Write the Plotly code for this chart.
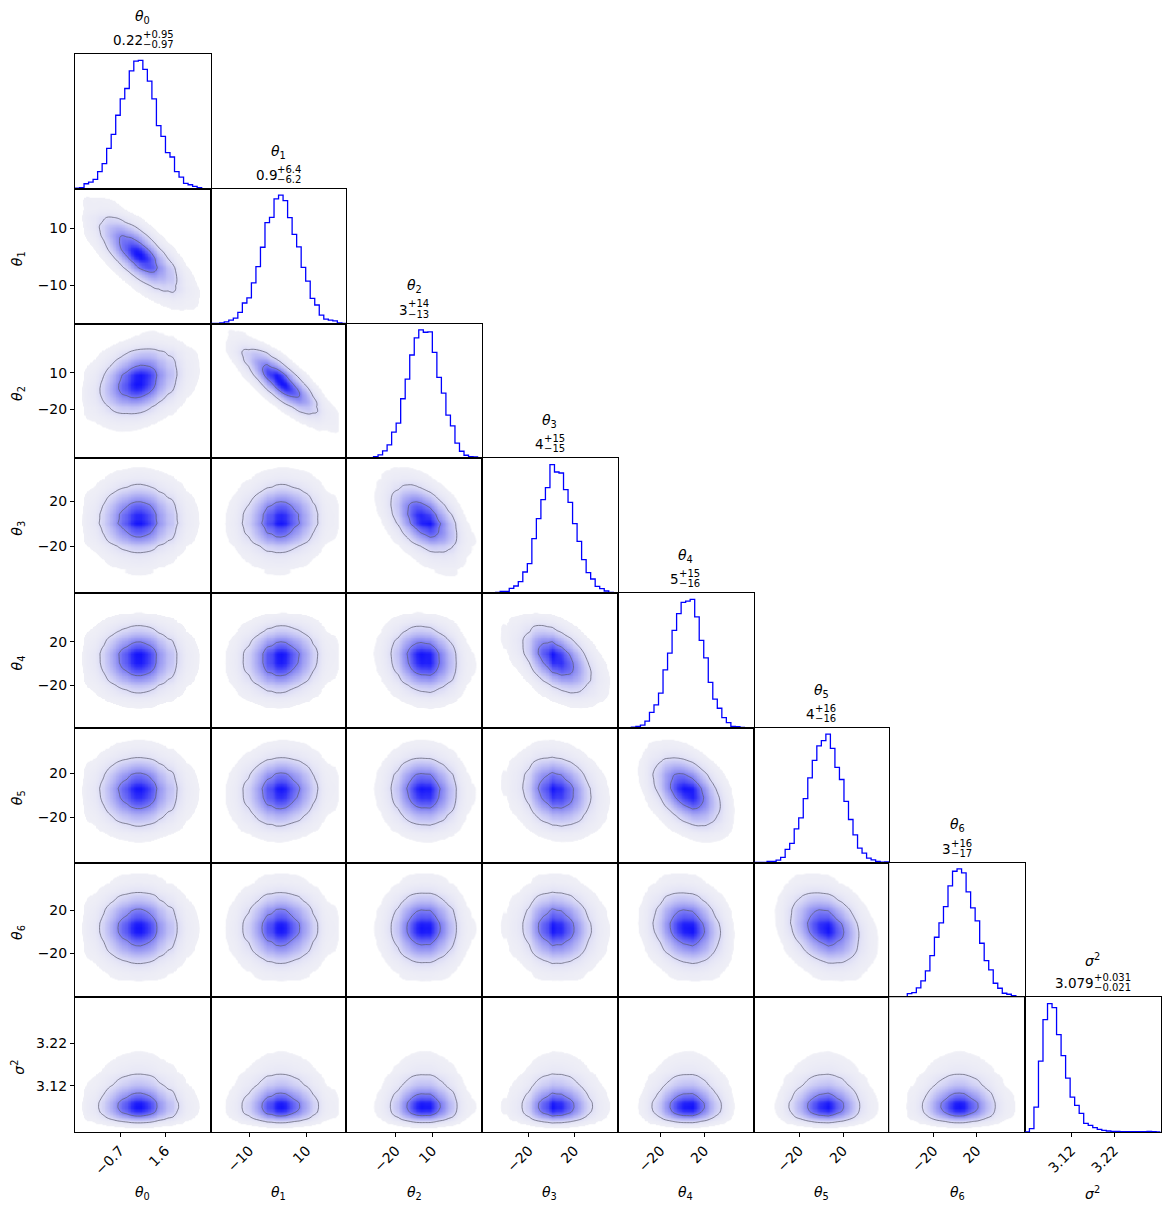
import numpy as np
import plotly.graph_objects as go

W, H = 1169, 1209

# ---------------- data ----------------
var_labels = ["<i>θ</i><sub>0</sub>", "<i>θ</i><sub>1</sub>", "<i>θ</i><sub>2</sub>",
              "<i>θ</i><sub>3</sub>", "<i>θ</i><sub>4</sub>", "<i>θ</i><sub>5</sub>",
              "<i>θ</i><sub>6</sub>", "<i>σ</i><sup>2</sup>"]

axis_ranges = [[-2.98, 3.89], [-23.6, 24.0], [-60.8, 51.0], [-61.0, 58.0],
               [-59.0, 65.0], [-61.5, 62.0], [-61.5, 65.0], [3.012, 3.328]]

# 30-bin histograms (bins span the axis range)
hist_theta0 = [2, 3, 15, 20, 28, 51, 75, 121, 163, 220, 269, 300, 353, 382, 384,
               357, 322, 269, 189, 157, 108, 95, 51, 35, 16, 12, 7, 3, 0, 0]
hist_theta1 = [0, 0, 2, 5, 10, 16, 33, 61, 76, 121, 169, 227, 300, 316, 371,
               382, 366, 315, 265, 228, 167, 126, 75, 55, 25, 13, 10, 8, 2, 0]
hist_theta2 = [0, 0, 0, 0, 0, 2, 5, 10, 22, 40, 78, 105, 178, 237, 309,
               360, 384, 377, 378, 317, 242, 195, 129, 97, 45, 21, 9, 5, 4, 1]
hist_theta3 = [1, 0, 0, 2, 5, 5, 14, 21, 34, 63, 88, 163, 223, 280, 316,
               385, 363, 360, 310, 272, 208, 155, 100, 61, 42, 20, 13, 6, 2, 1]
hist_theta4 = [0, 0, 0, 2, 4, 8, 20, 46, 68, 103, 172, 222, 290, 340, 373,
               377, 382, 330, 260, 208, 135, 85, 58, 30, 15, 4, 3, 1, 0, 0]
hist_theta5 = [0, 0, 0, 3, 3, 7, 15, 39, 57, 100, 133, 190, 252, 304, 347,
               363, 382, 340, 283, 247, 182, 128, 82, 43, 28, 13, 8, 3, 1, 2]
hist_theta6 = [0, 0, 1, 2, 11, 14, 28, 49, 79, 125, 180, 223, 272, 334, 378,
               385, 373, 316, 268, 229, 162, 110, 82, 42, 27, 12, 9, 5, 0, 0]
hist_sigma2 = [0, 10, 75, 213, 338, 386, 374, 293, 230, 162, 105, 80, 56, 26, 20,
               13, 8, 5, 3, 2, 2, 1, 1, 1, 1, 1, 1, 2, 1, 0]
hists = [hist_theta0, hist_theta1, hist_theta2, hist_theta3,
         hist_theta4, hist_theta5, hist_theta6, hist_sigma2]

tick_vals = [[-0.7, 1.6], [-10, 10], [-20, 10], [-20, 20],
             [-20, 20], [-20, 20], [-20, 20], [3.12, 3.22]]
tick_text = [["−0.7", "1.6"], ["−10", "10"], ["−20", "10"], ["−20", "20"],
             ["−20", "20"], ["−20", "20"], ["−20", "20"], ["3.12", "3.22"]]

medians = ["0.22", "0.9", "3", "4", "5", "4", "3", "3.079"]
err_plus = ["+0.95", "+6.4", "+14", "+15", "+15", "+16", "+16", "+0.031"]
err_minus = ["−0.97", "−6.2", "−13", "−15", "−16", "−16", "−17", "−0.021"]

# pairwise correlation (row variable, column variable) estimated from the panels
corr = {(1, 0): -0.72, (2, 0): 0.25, (2, 1): -0.80,
        (3, 0): 0.0, (3, 1): 0.05, (3, 2): -0.45,
        (4, 0): 0.0, (4, 1): 0.05, (4, 2): -0.10, (4, 3): -0.45,
        (5, 0): 0.0, (5, 1): 0.05, (5, 2): -0.05, (5, 3): -0.15, (5, 4): -0.40,
        (6, 0): 0.0, (6, 1): 0.0, (6, 2): 0.0, (6, 3): -0.05, (6, 4): -0.15, (6, 5): -0.25,
        (7, 0): 0.0, (7, 1): 0.0, (7, 2): 0.0, (7, 3): 0.0, (7, 4): 0.0, (7, 5): 0.0, (7, 6): 0.0}

# ---------------- layout geometry ----------------
N = 8
X0, PW = 75.0, 135.7
Y0, PH = 54.0, 134.75
FONT = "DejaVu Sans"
FS = 14


def xf(px):
    return px / W


def yf(py):
    return 1 - py / H


def centers_of(k):
    lo, hi = axis_ranges[k]
    nb = len(hists[k])
    e = np.linspace(lo, hi, nb + 1)
    return e, 0.5 * (e[:-1] + e[1:])


def marginal(k, grid):
    e, c = centers_of(k)
    cnt = np.asarray(hists[k], float)
    return np.interp(grid, c, cnt, left=0, right=0)


def moments(k):
    e, c = centers_of(k)
    cnt = np.asarray(hists[k], float)
    m = (cnt * c).sum() / cnt.sum()
    s = np.sqrt((cnt * (c - m) ** 2).sum() / cnt.sum())
    return m, s


heat_cs = [[0, "rgba(255,255,255,0)"], [0.009, "rgba(255,255,255,0)"],
           [0.01, "rgb(239,239,246)"], [0.08, "rgb(230,230,246)"],
           [0.25, "rgb(196,196,245)"], [0.5, "rgb(148,148,243)"],
           [0.8, "rgb(80,80,246)"], [1, "rgb(20,20,252)"]]

fig = go.Figure()
layout = dict(width=W, height=H, margin=dict(l=0, r=0, t=0, b=0),
              paper_bgcolor="white", plot_bgcolor="white", showlegend=False,
              font=dict(family=FONT, size=FS, color="black"))
annotations = []

n = 0
for i in range(N):
    for j in range(i + 1):
        n += 1
        xa = "xaxis" if n == 1 else f"xaxis{n}"
        ya = "yaxis" if n == 1 else f"yaxis{n}"
        xr = "x" if n == 1 else f"x{n}"
        yr = "y" if n == 1 else f"y{n}"
        L = X0 + PW * j
        T = Y0 + PH * i
        bottom_row = (i == N - 1)
        left_col = (j == 0 and i > 0)

        xaxis = dict(domain=[xf(L), xf(L + PW)], anchor=yr, range=axis_ranges[j],
                     showline=True, mirror=True, linecolor="black", linewidth=1,
                     showgrid=False, zeroline=False, fixedrange=True)
        if bottom_row:
            xaxis.update(tickmode="array", tickvals=tick_vals[j], ticktext=tick_text[j],
                         ticks="outside", ticklen=4, tickcolor="black", tickangle=-45,
                         tickfont=dict(size=FS, family=FONT, color="black"))
        else:
            xaxis.update(showticklabels=False, ticks="")

        if i == j:
            ymax = max(hists[i]) * 1.05
            yaxis = dict(domain=[yf(T + PH), yf(T)], anchor=xr, range=[0, ymax],
                         showline=True, mirror=True, linecolor="black", linewidth=1,
                         showgrid=False, zeroline=False, showticklabels=False, ticks="",
                         fixedrange=True)
            e, c = centers_of(i)
            cnt = list(hists[i])
            xs = [e[0]] + list(e[:-1]) + [e[-1], e[-1]]
            ys = [0] + cnt + [cnt[-1], 0]
            fig.add_trace(go.Scatter(x=xs, y=ys, mode="lines", line_shape="hv",
                                     line=dict(color="#0000ff", width=1.3),
                                     xaxis=xr, yaxis=yr, hoverinfo="skip"))
            # titles
            cx = L + PW / 2
            annotations.append(dict(text=var_labels[i], x=xf(cx), y=yf(T - 37),
                                    xref="paper", yref="paper", showarrow=False,
                                    xanchor="center", yanchor="middle",
                                    font=dict(size=FS, family=FONT)))
            cw = {".": 0.318, "+": 0.838, "−": 0.838}
            wm = sum(cw.get(ch, 0.636) for ch in medians[i]) * 13.5
            ws = max(sum(cw.get(ch, 0.636) for ch in err_plus[i]),
                     sum(cw.get(ch, 0.636) for ch in err_minus[i])) * 10
            split = cx - (wm + ws) / 2 + wm
            annotations.append(dict(text=medians[i], x=xf(split + 1), y=yf(T - 14),
                                    xref="paper", yref="paper", showarrow=False,
                                    xanchor="right", yanchor="middle", borderpad=0,
                                    font=dict(size=13.5, family=FONT)))
            annotations.append(dict(text=err_plus[i], x=xf(split - 1), y=yf(T - 19.5),
                                    xref="paper", yref="paper", showarrow=False,
                                    xanchor="left", yanchor="middle", borderpad=0,
                                    font=dict(size=10, family=FONT)))
            annotations.append(dict(text=err_minus[i], x=xf(split - 1), y=yf(T - 9.5),
                                    xref="paper", yref="paper", showarrow=False,
                                    xanchor="left", yanchor="middle", borderpad=0,
                                    font=dict(size=10, family=FONT)))
        else:
            yaxis = dict(domain=[yf(T + PH), yf(T)], anchor=xr, range=axis_ranges[i],
                         showline=True, mirror=True, linecolor="black", linewidth=1,
                         showgrid=False, zeroline=False, fixedrange=True)
            if left_col:
                yaxis.update(tickmode="array", tickvals=tick_vals[i], ticktext=tick_text[i],
                             ticks="outside", ticklen=4, tickcolor="black",
                             tickfont=dict(size=FS, family=FONT, color="black"))
            else:
                yaxis.update(showticklabels=False, ticks="")
            # density for this pair
            gx = np.linspace(axis_ranges[j][0], axis_ranges[j][1], 90)
            gy = np.linspace(axis_ranges[i][0], axis_ranges[i][1], 90)
            fx = marginal(j, gx)
            fy = marginal(i, gy)
            mx, sx = moments(j)
            my, sy = moments(i)
            zx = (gx - mx) / sx
            zy = (gy - my) / sy
            r = corr[(i, j)]
            ZX, ZY = np.meshgrid(zx, zy)
            cop = np.exp(-(r * r * (ZX ** 2 + ZY ** 2) - 2 * r * ZX * ZY) / (2 * (1 - r * r)))
            Z = fy[:, None] * fx[None, :] * cop
            Z = Z / Z.max()
            flat = np.sort(Z.ravel())[::-1]
            cs = np.cumsum(flat) / flat.sum()
            v1 = flat[np.searchsorted(cs, 1 - np.exp(-0.5))]
            v2 = flat[np.searchsorted(cs, 1 - np.exp(-2.0))]
            fig.add_trace(go.Heatmap(x=gx, y=gy, z=Z, colorscale=heat_cs, zmin=0, zmax=1,
                                     showscale=False, zsmooth="best",
                                     xaxis=xr, yaxis=yr, hoverinfo="skip"))
            fig.add_trace(go.Contour(x=gx, y=gy, z=Z, showscale=False,
                                     colorscale=[[0, "rgba(90,90,110,0.8)"], [1, "rgba(90,90,110,0.8)"]],
                                     contours=dict(coloring="lines", start=v2, end=v1,
                                                   size=(v1 - v2) * 0.9999, showlabels=False),
                                     line=dict(width=0.9, smoothing=1.0),
                                     xaxis=xr, yaxis=yr, hoverinfo="skip"))
        layout[xa] = xaxis
        layout[ya] = yaxis

# axis labels
for k in range(N):
    annotations.append(dict(text=var_labels[k], x=xf(X0 + PW * k + PW / 2), y=yf(1193),
                            xref="paper", yref="paper", showarrow=False,
                            xanchor="center", yanchor="middle", font=dict(size=FS, family=FONT)))
for k in range(1, N):
    annotations.append(dict(text=var_labels[k], x=xf(18), y=yf(Y0 + PH * k + PH / 2 + 3),
                            xref="paper", yref="paper", showarrow=False, textangle=-90,
                            xanchor="center", yanchor="middle", font=dict(size=FS, family=FONT)))

layout["annotations"] = annotations
fig.update_layout(**layout)
fig.write_html("out.html")
